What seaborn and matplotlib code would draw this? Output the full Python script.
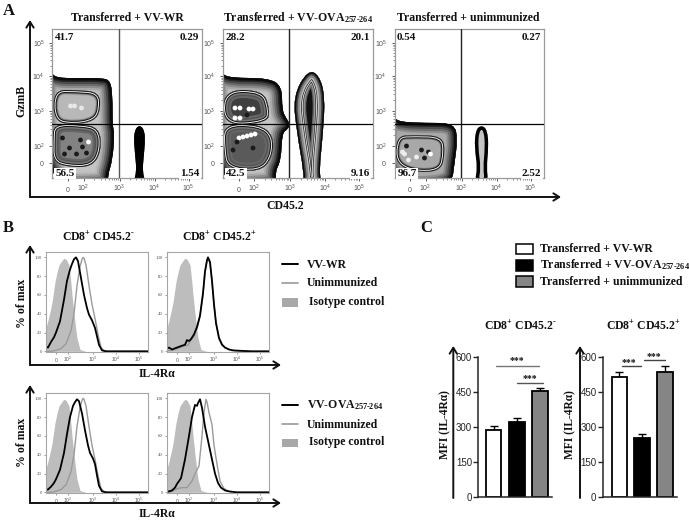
import numpy as np
import matplotlib
matplotlib.use("Agg")
import matplotlib.pyplot as plt
import seaborn as sns
from matplotlib.path import Path
from matplotlib.patches import PathPatch, Rectangle

W, H = 689, 520

# panel A, gates in channel units (1 channel = 1 px, origin at lower left of the plot)
flow_x_ticks = [15.5, 31, 67, 102, 136]
flow_x_labels = [r'$\mathsf{0}$', r'$\mathsf{10^{2}}$', r'$\mathsf{10^{3}}$', r'$\mathsf{10^{4}}$', r'$\mathsf{10^{5}}$']
flow_y_ticks = [15, 32, 67, 102, 135]
flow_y_labels = [r'$\mathsf{0}$', r'$\mathsf{10^{2}}$', r'$\mathsf{10^{3}}$', r'$\mathsf{10^{4}}$', r'$\mathsf{10^{5}}$']

a1_outer = [(-8, 108), (-2, 106), (4, 100), (25, 100), (50, 100), (58, 97), (60, 81), (60, 52), (62, 45), (60, 18), (55, 2), (56, -8), (-8, -8)]
a1_upper = [(1, 88), (24, 88), (47, 86), (48, 68), (42, 57), (21, 53), (1, 57)]
a1_lower = [(1, 54), (28, 54), (47, 50), (49, 28), (40, 11), (14, 11), (0, 17), (0, 38)]
a1_right = [(87, 53), (92, 48), (92.5, 35), (91, 20), (90, 6), (93, -4), (81, -4), (84, 6), (83, 20), (81.5, 35), (82, 48)]
a1_spots_x = [10, 17, 28, 34, 12, 24, 36, 30, 18, 29, 22]
a1_spots_y = [40, 30, 38, 25, 24, 24, 36, 31, 72, 70, 72]
a1_spots_c = ['k', 'k', 'k', 'k', 'k', 'k', 'w', 'k', '#e8e8e8', '#e8e8e8', '#e8e8e8']

a2_outer = [(-8, 108), (-2, 105), (7, 100), (45, 100), (59, 92), (59, 68), (63, 60), (67, 54), (65, 49), (59, 45), (58, 18), (52, 6), (54, -8), (-8, -8)]
a2_upper = [(0, 88), (40, 88), (47, 68), (44, 55), (0, 52)]
a2_lower = [(0, 54), (36, 54), (51, 42), (49, 19), (36, 6), (4, 9), (0, 28)]
a2_right = [(85, 108), (70, 82), (74, 45), (81, 5), (80, -6), (99, -6), (96, 6), (100, 45), (102, 82), (96, 103)]
a2_spots_x = [12, 17, 26, 30, 12, 17, 24, 16, 20, 24, 28, 32, 14, 30, 10]
a2_spots_y = [70, 70, 69, 69, 60, 60, 63, 40, 41, 42, 43, 44, 36, 30, 28]
a2_spots_c = ['w', 'w', 'w', 'w', 'w', 'w', 'k', 'w', 'w', 'w', 'w', 'w', 'k', 'k', 'k']

a3_outer = [(-8, 64), (0, 60), (6, 56), (30, 55), (60, 55), (63, 38), (60, 15), (57, -8), (-8, -8)]
a3_inner = [(1, 42), (21, 43), (47, 42), (51, 28), (46, 4), (1, 9)]
a3_right = [(87, 53), (93, 48), (94, 30), (92, 10), (94, -4), (80, -4), (83, 10), (80, 30), (81, 48)]
a3_spots_x = [8, 10, 14, 27, 30, 34, 22, 36, 12]
a3_spots_y = [26, 24, 18, 28, 20, 26, 21, 24, 32]
a3_spots_c = ['#eeeeee', '#eeeeee', '#eeeeee', 'k', 'k', 'k', '#eeeeee', 'w', 'k']

a_titles = ['Transferred + VV-WR', 'Transferred + VV-OVA$_{\\text{257-264}}$', 'Transferred + unimmunized']
a_upper_left = ['41.7', '28.2', '0.54']
a_upper_right = ['0.29', '20.1', '0.27']
a_lower_left = ['56.5', '42.5', '96.7']
a_lower_right = ['1.54', '9.16', '2.52']

# panel B, histograms, channel on x and % of max on y
hist_x_ticks = [10.3, 22, 47, 70, 92.7]
hist_x_labels = [r'$\mathsf{0}$', r'$\mathsf{10^{2}}$', r'$\mathsf{10^{3}}$', r'$\mathsf{10^{4}}$', r'$\mathsf{10^{5}}$']
hist_y_ticks = [0, 20, 40, 60, 80, 100]

iso_x = [0, 2, 4, 6, 9, 11, 13, 15, 17, 18, 20, 21, 23, 25, 26, 28, 30, 31, 33, 34, 37, 40, 102]
iso_y = [25, 33, 42, 52, 74, 84, 92, 95, 98, 99, 98, 96, 92, 72, 60, 40, 22, 14, 6, 2, 1, 0, 0]

b1_black_x = [0, 2, 5, 8, 10, 14, 18, 21, 24, 26, 28, 30, 32, 35, 38, 41, 43, 46, 49, 51, 53, 56, 60, 102]
b1_black_y = [5, 4, 10, 15, 20, 32, 55, 75, 87, 93, 98, 100, 96, 78, 60, 46, 39, 33, 25, 16, 7, 1, 0, 0]
b1_gray_x = [0, 5, 10, 15, 20, 25, 28, 31, 34, 36, 37, 38, 40, 43, 46, 49, 52, 55, 58, 62, 102]
b1_gray_y = [0, 0, 1, 3, 8, 22, 40, 70, 90, 98, 100, 99, 92, 70, 50, 35, 18, 4, 1, 0, 0]

b2_black_x = [0, 2, 5, 10, 15, 18, 20, 22, 24, 27, 30, 33, 36, 38, 40, 41, 43, 45, 47, 49, 52, 55, 58, 62, 66, 75, 85, 102]
b2_black_y = [3, 4, 2, 4, 6, 7, 12, 11, 13, 18, 26, 38, 62, 85, 97, 100, 95, 75, 50, 30, 14, 7, 4, 2, 1, 0.5, 0, 0]
b2_gray_x = [0, 5, 10, 15, 18, 20, 22, 24, 27, 30, 33, 36, 38, 40, 41, 43, 45, 47, 49, 52, 55, 58, 62, 66, 75, 102]
b2_gray_y = [1, 1, 3, 5, 6, 6, 8, 12, 16, 24, 37, 60, 84, 96, 99, 94, 74, 50, 31, 15, 8, 4, 2, 1, 0, 0]

b3_black_x = [0, 2, 5, 8, 10, 14, 18, 21, 24, 27, 29, 31, 33, 36, 39, 42, 44, 47, 49, 51, 53, 56, 60, 102]
b3_black_y = [3, 3, 6, 10, 14, 24, 42, 62, 80, 92, 96, 99, 97, 84, 66, 50, 42, 36, 30, 18, 7, 1, 0, 0]
b3_gray_x = b1_gray_x
b3_gray_y = b1_gray_y

b4_black_x = [0, 2, 5, 8, 10, 14, 18, 22, 25, 28, 30, 31, 33, 35, 38, 42, 45, 48, 51, 54, 58, 62, 70, 102]
b4_black_y = [1, 1, 2, 5, 9, 15, 35, 60, 80, 93, 92, 95, 99, 90, 70, 50, 35, 20, 10, 5, 2, 1, 0, 0]
b4_gray_x = [0, 5, 10, 15, 20, 25, 28, 32, 35, 37, 39, 40, 42, 45, 47, 50, 53, 57, 62, 70, 102]
b4_gray_y = [0, 1, 4, 5, 5, 12, 20, 28, 60, 85, 99, 96, 85, 72, 50, 30, 12, 4, 1, 0, 0]

# panel C
groups = ['Transferred + VV-WR', 'Transferred + VV-OVA', 'Transferred + unimmunized']
bar_colors = ['white', 'black', '#858585']
mfi_neg = [288, 323, 455]
mfi_neg_err = [18, 14, 11]
mfi_pos = [514, 254, 538]
mfi_pos_err = [21, 14, 23]
mfi_ticks = [0, 150, 300, 450, 600]

sns.set_theme(style="ticks")
plt.rcParams['font.family'] = ['Liberation Serif', 'DejaVu Sans']
plt.rcParams['mathtext.fontset'] = 'custom'
plt.rcParams['mathtext.rm'] = 'Liberation Serif:bold'
plt.rcParams['mathtext.bf'] = 'Liberation Serif:bold'
plt.rcParams['mathtext.it'] = 'Liberation Serif:bold'
plt.rcParams['mathtext.sf'] = 'Liberation Sans'
plt.rcParams['mathtext.default'] = 'rm'

fig = plt.figure(figsize=(W / 100, H / 100), dpi=100)


def px_axes(left, top, right, bottom):
    return fig.add_axes([left / W, 1 - bottom / H, (right - left) / W, (bottom - top) / H])


def smooth_path(pts):
    mids = [((pts[i][0] + pts[(i + 1) % len(pts)][0]) / 2, (pts[i][1] + pts[(i + 1) % len(pts)][1]) / 2)
            for i in range(len(pts))]
    verts = [mids[-1]]
    codes = [Path.MOVETO]
    for p, m in zip(pts, mids):
        verts += [p, m]
        codes += [Path.CURVE3, Path.CURVE3]
    return Path(verts, codes)


def shade(ax, pts, bands, fill):
    # bands are (depth in px, colour): each colour reaches that far in from the outline
    path = smooth_path(pts)
    base = PathPatch(path, fc=fill, ec='none')
    ax.add_patch(base)
    for depth, color in sorted(bands, reverse=True):
        ring = PathPatch(path, fc='none', ec=color, lw=2 * depth * 0.72, joinstyle='round')
        ax.add_patch(ring)
        ring.set_clip_path(base)


def log_minor(ticks):
    out = []
    for a, b in zip(ticks[1:-1], ticks[2:]):
        out += [a + (b - a) * np.log10(k) for k in range(2, 10)]
    return out


def flow_axes(left):
    ax = px_axes(left, 29, left + 149.5, 178)
    ax.set_xlim(0, 149.5)
    ax.set_ylim(0, 149)
    ax.set_xticks(flow_x_ticks)
    ax.set_xticklabels(flow_x_labels, va='baseline')
    ax.set_yticks(flow_y_ticks)
    ax.set_yticklabels(flow_y_labels)
    ax.set_xticks(log_minor(flow_x_ticks), minor=True)
    ax.set_yticks(log_minor(flow_y_ticks), minor=True)
    ax.tick_params(which='major', length=2.5, width=0.6, color='#444444', labelsize=5, labelcolor='#555555', pad=3)
    ax.tick_params(axis='x', which='major', pad=7.5)
    ax.tick_params(which='minor', length=1.2, width=0.4, color='#444444')
    for s in ax.spines.values():
        s.set_color('#9a9a9a')
        s.set_linewidth(0.9)
    return ax


def quad_lines(ax, vcolor='#222222'):
    ax.axvline(66, color=vcolor, lw=1.0, zorder=5)
    ax.axhline(54, color='black', lw=0.9, zorder=5)


outer_bands = [(2.5, '#0a0a0a'), (4, '#262626'), (6, '#4a4a4a'), (8, '#6c6c6c'), (10, '#8c8c8c'), (12, '#a8a8a8'), (14, '#bcbcbc')]
ring_bands = [(1, '#111111'), (2, '#eeeeee'), (3, '#111111'), (4, '#777777'), (5, '#aaaaaa')]
dark_bands = [(1, '#111111'), (2, '#eeeeee'), (3, '#111111'), (4.5, '#777777'), (6, '#555555'), (8, '#666666')]

# panel A
ax_a1 = flow_axes(52.5)
shade(ax_a1, a1_outer, outer_bands, '#c4c4c4')
shade(ax_a1, a1_upper, ring_bands, '#b8b8b8')
shade(ax_a1, a1_lower, dark_bands, '#828282')
ax_a1.scatter(a1_spots_x, a1_spots_y, s=12, c=a1_spots_c, linewidths=0, zorder=3)
shade(ax_a1, a1_right, [(9, 'black')], 'black')
quad_lines(ax_a1, '#555555')

ax_a2 = flow_axes(223)
shade(ax_a2, a2_outer, outer_bands, '#c4c4c4')
shade(ax_a2, a2_upper, dark_bands, '#3f3f3f')
shade(ax_a2, a2_lower, dark_bands, '#5a5a5a')
ax_a2.scatter(a2_spots_x, a2_spots_y, s=12, c=a2_spots_c, linewidths=0, zorder=3)
shade(ax_a2, a2_right, [(1.5, '#080808'), (3, '#444444'), (5, '#888888'), (6.5, '#bbbbbb'), (7.2, '#222222'),
                        (8, '#eeeeee'), (8.8, '#333333'), (10, '#999999'), (11.5, '#666666')], '#111111')
quad_lines(ax_a2)

ax_a3 = flow_axes(394.5)
shade(ax_a3, a3_outer, outer_bands[:6], '#a8a8a8')
shade(ax_a3, a3_inner, ring_bands, '#a8a8a8')
ax_a3.scatter(a3_spots_x, a3_spots_y, s=12, c=a3_spots_c, linewidths=0, zorder=3)
shade(ax_a3, a3_right, [(3.5, 'black')], '#c4c4c4')
quad_lines(ax_a3)


def hist_axes(left, top, black, gray):
    ax = px_axes(left, top, left + 102, top + 100)
    ax.fill_between(iso_x, iso_y, 0, color='#bdbdbd', lw=0)
    sns.lineplot(x=gray[0], y=gray[1], ax=ax, color='#9a9a9a', lw=1.0, estimator=None, sort=False)
    sns.lineplot(x=black[0], y=black[1], ax=ax, color='black', lw=1.3, estimator=None, sort=False)
    ax.set_xlim(0, 102)
    ax.set_ylim(-0.7, 105.7)
    ax.set_xticks(hist_x_ticks)
    ax.set_xticklabels(hist_x_labels, va='baseline')
    ax.set_yticks(hist_y_ticks)
    ax.set_xlabel('')
    ax.set_ylabel('')
    ax.tick_params(length=1.5, width=0.4, color='#555555', labelsize=3.5, labelcolor='#555555', pad=1.5)
    ax.tick_params(axis='x', pad=5.5)
    for s in ax.spines.values():
        s.set_color('#a5a5a5')
        s.set_linewidth(0.8)
    return ax


# panel B
hist_axes(46, 252, (b1_black_x, b1_black_y), (b1_gray_x, b1_gray_y))
hist_axes(167, 252, (b2_black_x, b2_black_y), (b2_gray_x, b2_gray_y))
hist_axes(46, 393, (b3_black_x, b3_black_y), (b3_gray_x, b3_gray_y))
hist_axes(167, 393, (b4_black_x, b4_black_y), (b4_gray_x, b4_gray_y))


def mfi_axes(left, right, xleft, xright, values, errs):
    ax = px_axes(left, 357.3, right, 496.7)
    sns.barplot(x=groups, y=values, order=groups, hue=groups, palette=bar_colors, hue_order=groups,
                edgecolor='black', linewidth=1.3, width=0.68, legend=False, errorbar=None, ax=ax, zorder=2)
    ax.errorbar(range(3), values, yerr=[[0, 0, 0], errs], fmt='none', ecolor='black', elinewidth=1.0,
                capsize=3, capthick=1.0, zorder=1)
    ax.set_xlim(xleft, xright)
    ax.set_ylim(0, 600)
    ax.set_yticks(mfi_ticks)
    ax.set_xticks([])
    ax.set_xlabel('')
    ax.set_ylabel('')
    ax.tick_params(axis='y', length=3.5, width=1.0, labelsize=7, pad=1)
    for lab in ax.get_yticklabels():
        lab.set_family('Liberation Sans')
    sns.despine(ax=ax)
    ax.spines['left'].set_linewidth(1.1)
    ax.spines['bottom'].set_linewidth(1.1)
    return ax


# panel C
mfi_axes(478.3, 551.7, -0.667, 2.52, mfi_neg, mfi_neg_err)
mfi_axes(602.7, 676.7, -0.73, 2.51, mfi_pos, mfi_pos_err)

# everything else sits on a full-figure overlay in pixel coordinates
ov = fig.add_axes([0, 0, 1, 1], zorder=10)
ov.set_xlim(0, W)
ov.set_ylim(H, 0)
ov.axis('off')
ov.patch.set_alpha(0)


def label(x, y, s, size=8.5, ha='center', rotation=0, box=False):
    kw = {}
    if box:
        kw['bbox'] = dict(fc='white', ec='none', pad=0.8)
    if rotation:
        ov.text(x, y, s, fontsize=size, fontweight='bold', ha=ha, va='center', rotation=rotation,
                color='#111111', **kw)
    else:
        # baseline so subscripts and superscripts do not shift the line
        ov.text(x, y + 0.42 * size, s, fontsize=size, fontweight='bold', ha=ha, va='baseline',
                color='#111111', **kw)


def arrow(x0, y0, x1, y1):
    ov.annotate('', xy=(x1, y1), xytext=(x0, y0),
                arrowprops=dict(arrowstyle='->,head_length=0.35,head_width=0.22', lw=1.4, color='#111111',
                                shrinkA=0, shrinkB=0))


label(8.5, 9.5, 'A', 12)
label(8, 227, 'B', 12)
label(426, 227, 'C', 12)

for cx, t in zip([127, 298.5, 468], a_titles):
    label(cx, 17.5, t)
for left, ul, ur, ll, lr in zip([52.5, 223, 394.5], a_upper_left, a_upper_right, a_lower_left, a_lower_right):
    label(left + 2, 37, ul, 8, ha='left')
    label(left + 147, 37, ur, 8, ha='right')
    label(left + 3, 173, ll, 8, ha='left', box=True)
    label(left + 147, 173, lr, 8, ha='right', box=True)

arrow(30, 197, 30, 20)
arrow(30, 197, 561, 197)
label(21, 101, 'GzmB', 8.5, rotation=90)
label(285, 205, 'CD45.2', 8.5)

label(98, 237, 'CD8$^{+}$ CD45.2$^{\\text{-}}$')
label(219, 237, 'CD8$^{+}$ CD45.2$^{+}$')
arrow(30, 365, 30, 245)
arrow(30, 365, 281, 365)
arrow(30, 503, 30, 385)
arrow(30, 503, 281, 503)
label(157, 373, 'IL-4Rα')
label(157, 513, 'IL-4Rα')
label(21.7, 303, '% of max', rotation=90)
label(21.7, 442, '% of max', rotation=90)

for y_line, y_gray, y_rect, name in [(264, 282.7, 298, 'VV-WR'), (405, 424, 438.7, 'VV-OVA$_{\\text{257-264}}$')]:
    ov.plot([282, 298], [y_line, y_line], color='black', lw=1.4)
    ov.plot([282, 298], [y_gray, y_gray], color='#9a9a9a', lw=1.2)
    ov.add_patch(Rectangle((282, y_rect), 16, 8.5, fc='#a8a8a8', ec='none'))
    label(307, y_line, name, ha='left')
    label(307, y_gray, 'Unimmunized', ha='left')
    label(309, y_rect + 3, 'Isotype control', ha='left')

for y, c, name in [(243.7, 'white', 'Transferred + VV-WR'), (260, 'black', 'Transferred + VV-OVA$_{\\text{257-264}}$'),
                   (276, '#858585', 'Transferred + unimmunized')]:
    ov.add_patch(Rectangle((515.5, y), 17.5, 10.5, fc=c, ec='black', lw=1.1))
    label(540, y + 5, name, ha='left')

label(520, 326.7, 'CD8$^{+}$ CD45.2$^{\\text{-}}$')
label(643, 326.7, 'CD8$^{+}$ CD45.2$^{+}$')
arrow(453.3, 498, 453.3, 346)
arrow(580, 498, 580, 346)
label(445, 425, 'MFI (IL-4Rα)', 8.3, rotation=90)
label(570, 425, 'MFI (IL-4Rα)', 8.3, rotation=90)

for x0, x1, y, tx, ty, col in [(496, 539, 365.7, 516.7, 360, '#777777'), (516.7, 543.3, 382.7, 530, 378, '#555555'),
                               (622, 641, 366, 629, 362, '#444444'), (644, 665.3, 360, 654.3, 356, '#444444')]:
    ov.plot([x0, x1], [y, y], color=col, lw=1.0)
    label(tx, ty, '***', 7)

fig.savefig('out.png', dpi=100)
